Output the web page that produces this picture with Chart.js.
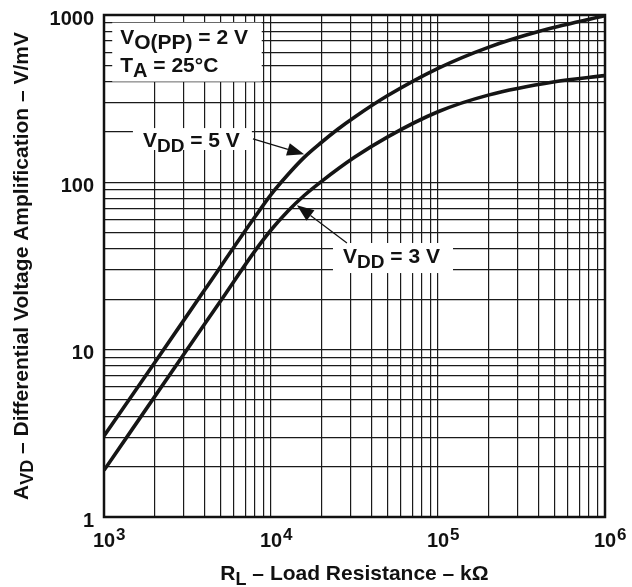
<!DOCTYPE html>
<html lang="en">
<head>
<meta charset="UTF-8">
<title>Differential Voltage Amplification vs Load Resistance</title>
<script src="https://cdn.jsdelivr.net/npm/chart.js@4"></script>
<style>
  body { margin: 0; background: #fff; }
  #wrap { width: 632px; height: 587px; position: relative; }
</style>
</head>
<body>
<div id="wrap"><canvas id="avdChart"></canvas></div>
<script>
// load resistance (x) and gain (y)
const rl5V  = [1000, 2000, 4000, 8000, 10000, 12600, 15800, 20000, 25000, 31600, 50000, 100000, 200000, 400000, 1000000];
const avd5V = [3.05, 8.3, 22.7, 62, 84.5, 111, 141, 173, 207, 245, 330, 480, 641, 797, 990];
const rl3V  = [1000, 3160, 5000, 8000, 10000, 12600, 15800, 20000, 31600, 50000, 100000, 200000, 500000, 1000000];
const avd3V = [1.9, 10.1, 19.6, 38.8, 51.9, 67.2, 83.4, 101, 141, 187, 264, 332, 399, 434];

// axis ticks
const xTickExps = [3, 4, 5, 6];
const yTickLabels = ['1', '10', '100', '1000'];

// text, split into [text, 'sub'|'sup'|''] runs
const xTitle = [['R', ''], ['L', 'sub'], [' \u2013 Load Resistance \u2013 k\u03A9', '']];
const yTitle = [['A', ''], ['VD', 'sub'], [' \u2013 Differential Voltage Amplification \u2013 V/mV', '']];
const condLine1 = [['V', ''], ['O(PP)', 'sub'], [' = 2 V', '']];
const condLine2 = [['T', ''], ['A', 'sub'], [' = 25\u00B0C', '']];
const label5V = [['V', ''], ['DD', 'sub'], [' = 5 V', '']];
const label3V = [['V', ''], ['DD', 'sub'], [' = 3 V', '']];

// where the notes sit, in data units (x = R_L, y = A_VD)
const notes = {
    cond: { box: [1120, 900, 8800, 400], line1: [1250, 672], line2: [1250, 457] },
    v5:   { box: [1490, 211, 7680, 156], text: [1710, 163], from: [7800, 182], to: [15800, 147] },
    v3:   { box: [23500, 43.4, 123000, 28.7], text: [27000, 33], from: [28500, 43.4], to: [14300, 73] }
};

const FONT = '"Liberation Sans", Arial, sans-serif';
const font = (size) => 'bold ' + size + 'px ' + FONT;

function gridValues(exps) {
    const v = [];
    for (let i = 0; i < exps.length - 1; i++) {
        for (let m = 1; m <= 9; m++) v.push(m * Math.pow(10, exps[i]));
    }
    v.push(Math.pow(10, exps[exps.length - 1]));
    return v;
}
const yTickExps = yTickLabels.map(s => Math.round(Math.log10(Number(s))));

function richWidth(ctx, parts, size, small) {
    let w = 0;
    parts.forEach(([t, k]) => { ctx.font = font(k ? small : size); w += ctx.measureText(t).width; });
    return w;
}

function drawRich(ctx, parts, x, y, size, small, align) {
    const w = richWidth(ctx, parts, size, small);
    let cx = align === 'center' ? x - w / 2 : (align === 'right' ? x - w : x);
    ctx.textAlign = 'left';
    ctx.textBaseline = 'alphabetic';
    parts.forEach(([t, k]) => {
        ctx.font = font(k ? small : size);
        const dy = k === 'sub' ? 5 : (k === 'sup' ? -7 : 0);
        ctx.fillText(t, cx, y + dy);
        cx += ctx.measureText(t).width;
    });
}

function arrow(ctx, x1, y1, x2, y2) {
    const a = Math.atan2(y2 - y1, x2 - x1);
    const len = 17, half = 6.5;
    const bx = x2 - len * Math.cos(a), by = y2 - len * Math.sin(a);
    ctx.lineWidth = 1.2;
    ctx.beginPath();
    ctx.moveTo(x1, y1);
    ctx.lineTo(bx, by);
    ctx.stroke();
    ctx.beginPath();
    ctx.moveTo(x2, y2);
    ctx.lineTo(bx + half * Math.sin(a), by - half * Math.cos(a));
    ctx.lineTo(bx - half * Math.sin(a), by + half * Math.cos(a));
    ctx.closePath();
    ctx.fill();
}

const decorPlugin = {
    id: 'decor',
    beforeDraw(chart) {
        const ctx = chart.ctx;
        ctx.save();
        ctx.fillStyle = '#fff';
        ctx.fillRect(0, 0, chart.width, chart.height);
        ctx.restore();
    },
    beforeDatasetsDraw(chart) {
        const {ctx, chartArea: ca, scales: {x, y}} = chart;
        ctx.save();
        // white backgrounds behind the notes
        ctx.fillStyle = '#fff';
        Object.values(notes).forEach(n => {
            const x1 = x.getPixelForValue(n.box[0]), y1 = y.getPixelForValue(n.box[1]);
            const x2 = x.getPixelForValue(n.box[2]), y2 = y.getPixelForValue(n.box[3]);
            ctx.fillRect(x1, y1, x2 - x1, y2 - y1);
        });
        // heavy frame
        ctx.strokeStyle = '#111';
        ctx.lineWidth = 2.5;
        ctx.strokeRect(ca.left, ca.top, ca.right - ca.left, ca.bottom - ca.top);
        ctx.restore();
    },
    afterDatasetsDraw(chart) {
        const {ctx, chartArea: ca, scales: {x, y}} = chart;
        const px = (p) => [x.getPixelForValue(p[0]), y.getPixelForValue(p[1])];
        ctx.save();
        ctx.fillStyle = '#111';
        ctx.strokeStyle = '#111';

        // notes
        let p = px(notes.cond.line1);
        drawRich(ctx, condLine1, p[0], p[1], 21, 21, 'left');
        p = px(notes.cond.line2);
        drawRich(ctx, condLine2, p[0], p[1], 21, 20, 'left');
        p = px(notes.v5.text);
        drawRich(ctx, label5V, p[0], p[1], 21, 19, 'left');
        p = px(notes.v3.text);
        drawRich(ctx, label3V, p[0], p[1], 21, 19, 'left');
        let a = px(notes.v5.from), b = px(notes.v5.to);
        arrow(ctx, a[0], a[1], b[0], b[1]);
        a = px(notes.v3.from); b = px(notes.v3.to);
        arrow(ctx, a[0], a[1], b[0], b[1]);

        // y tick labels
        ctx.font = font(20);
        ctx.textAlign = 'right';
        ctx.textBaseline = 'middle';
        yTickLabels.forEach(s => {
            ctx.fillText(s, ca.left - 10, y.getPixelForValue(Number(s)) + 4);
        });

        // x tick labels: 10 with raised exponent
        xTickExps.forEach(e => {
            const cx = x.getPixelForValue(Math.pow(10, e));
            ctx.font = font(20);
            ctx.textAlign = 'center';
            ctx.textBaseline = 'alphabetic';
            const w = ctx.measureText('10').width;
            ctx.fillText('10', cx, ca.bottom + 30);
            ctx.font = font(17);
            ctx.textAlign = 'left';
            ctx.fillText(String(e), cx + w / 2 + 1, ca.bottom + 23);
        });

        // axis titles
        drawRich(ctx, xTitle, (ca.left + ca.right) / 2, ca.bottom + 63, 21, 18, 'center');
        ctx.translate(28, (ca.top + ca.bottom) / 2);
        ctx.rotate(-Math.PI / 2);
        drawRich(ctx, yTitle, 0, 0, 21, 18, 'center');
        ctx.restore();
    }
};

const curveStyle = {
    showLine: true,
    borderColor: '#151515',
    borderWidth: 3.6,
    pointRadius: 0,
    cubicInterpolationMode: 'monotone',
    fill: false
};

const axisBase = (min, max, exps) => ({
    type: 'logarithmic',
    min: min,
    max: max,
    afterBuildTicks: (axis) => { axis.ticks = gridValues(exps).map(v => ({ value: v })); },
    ticks: { display: false },
    grid: { color: '#1a1a1a', lineWidth: 1.2, drawTicks: false },
    border: { display: false }
});

new Chart(document.getElementById('avdChart'), {
    type: 'scatter',
    data: {
        datasets: [
            Object.assign({ label: 'VDD = 5 V', data: rl5V.map((v, i) => ({ x: v, y: avd5V[i] })) }, curveStyle),
            Object.assign({ label: 'VDD = 3 V', data: rl3V.map((v, i) => ({ x: v, y: avd3V[i] })) }, curveStyle)
        ]
    },
    options: {
        responsive: true,
        maintainAspectRatio: false,
        animation: false,
        layout: { padding: { left: 104, top: 15, right: 27, bottom: 70 } },
        plugins: { legend: { display: false }, tooltip: { enabled: false } },
        scales: {
            x: axisBase(Math.pow(10, xTickExps[0]), Math.pow(10, xTickExps[xTickExps.length - 1]), xTickExps),
            y: axisBase(Math.pow(10, yTickExps[0]), Math.pow(10, yTickExps[yTickExps.length - 1]), yTickExps)
        }
    },
    plugins: [decorPlugin]
});
</script>
</body>
</html>
